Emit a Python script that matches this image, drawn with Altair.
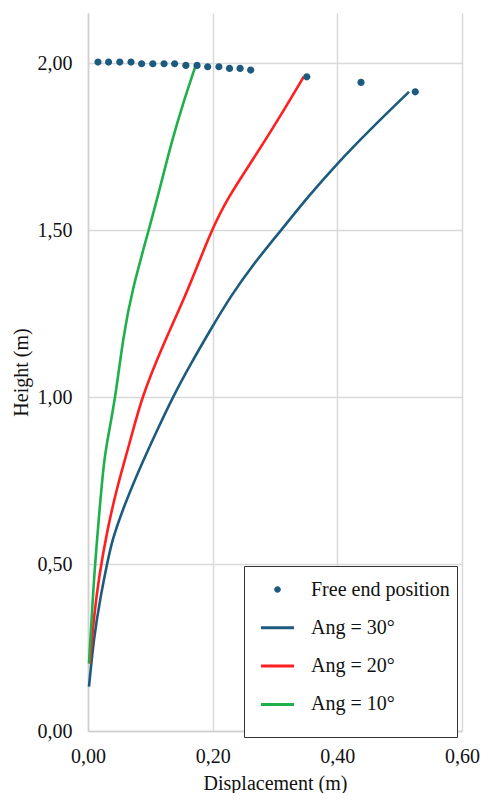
import altair as alt
import pandas as pd

# ---- data ----
series_names = ["Free end position", "Ang = 30°", "Ang = 20°", "Ang = 10°"]
series_colors = ["#1d5b7e", "#1d5b7e", "#ff1f1f", "#1fb04c"]

free_x = [0.016, 0.033, 0.051, 0.069, 0.086, 0.104, 0.122, 0.139, 0.157, 0.175,
          0.192, 0.210, 0.227, 0.244, 0.261, 0.351, 0.438, 0.525]
free_y = [2.003, 2.003, 2.003, 2.003, 1.998, 1.998, 1.998, 1.998, 1.993, 1.993,
          1.989, 1.989, 1.984, 1.984, 1.979, 1.959, 1.942, 1.914]

ang30_x = [0.0016, 0.0095, 0.020, 0.0307, 0.0386, 0.057, 0.0836, 0.113, 0.136,
           0.165, 0.196, 0.228, 0.266, 0.310, 0.353, 0.400, 0.452, 0.515]
ang30_y = [0.133, 0.282, 0.401, 0.501, 0.571, 0.670, 0.790, 0.909, 1.000,
           1.100, 1.200, 1.300, 1.400, 1.500, 1.600, 1.700, 1.800, 1.914]

ang20_x = [0.003, 0.0095, 0.0175, 0.0307, 0.0465, 0.068, 0.086, 0.123, 0.160,
           0.197, 0.224, 0.266, 0.303, 0.346]
ang20_y = [0.202, 0.342, 0.461, 0.600, 0.730, 0.869, 1.000, 1.168, 1.317,
           1.496, 1.596, 1.715, 1.824, 1.959]

ang10_x = [0.0016, 0.0095, 0.0175, 0.0254, 0.033, 0.044, 0.057, 0.0704, 0.0968,
           0.1127, 0.134, 0.155, 0.172]
ang10_y = [0.202, 0.461, 0.640, 0.810, 0.889, 1.000, 1.187, 1.317, 1.496,
           1.605, 1.765, 1.894, 1.989]

x_ticks = [0.0, 0.2, 0.4, 0.6]
y_ticks = [0.0, 0.5, 1.0, 1.5, 2.0]

# ---- tables ----
rows = []
for name, xs, ys in [("Ang = 30°", ang30_x, ang30_y),
                     ("Ang = 20°", ang20_x, ang20_y),
                     ("Ang = 10°", ang10_x, ang10_y)]:
    for i, (xv, yv) in enumerate(zip(xs, ys)):
        rows.append({"series": name, "x": xv, "y": yv, "i": i})
lines_df = pd.DataFrame(rows)
points_df = pd.DataFrame({"series": "Free end position", "x": free_x, "y": free_y})

FONT = "Liberation Serif"
fmt = "replace(format(datum.value, '.2f'), '.', ',')"

dot_path = "M-0.2,0A0.2,0.2,0,1,0,0.2,0A0.2,0.2,0,1,0,-0.2,0Z"
bar_path = "M-1,-0.09L1,-0.09L1,0.09L-1,0.09Z"

x_enc = alt.X("x:Q", scale=alt.Scale(domain=[0, 0.6], nice=False, zero=False),
              axis=alt.Axis(values=x_ticks, labelExpr=fmt, title="Displacement (m)",
                            ticks=False, labelPadding=15, titlePadding=7,
                            labelFlush=False))
y_enc = alt.Y("y:Q", scale=alt.Scale(domain=[0, 2.15], nice=False, zero=False),
              axis=alt.Axis(values=y_ticks, labelExpr=fmt, title="Height (m)",
                            ticks=False, labelPadding=16, titlePadding=6,
                            labelFlush=False))

color_scale = alt.Scale(domain=series_names, range=series_colors)

legend = alt.Legend(
    title="\u00a0", titleOrient="bottom", titleFontSize=16, titlePadding=0,
    orient="none", legendX=156, legendY=553,
    strokeColor="#333333", fillColor="white", padding=7, cornerRadius=0,
    symbolSize=1089, symbolOffset=10, labelOffset=17, rowPadding=11.3,
    labelFont=FONT, labelFontSize=20, labelColor="#111111", labelLimit=400,
    symbolStrokeWidth=0, symbolOpacity=1,
)

lines = alt.Chart(lines_df).mark_line(strokeWidth=2.6, interpolate="basis").encode(
    x=x_enc, y=y_enc,
    color=alt.Color("series:N", scale=color_scale, legend=legend),
    order="i:Q",
)

points = alt.Chart(points_df).mark_point(filled=True, opacity=1, size=1300, strokeWidth=0).encode(
    x=x_enc, y=y_enc,
    color=alt.Color("series:N", scale=color_scale, legend=legend),
    shape=alt.Shape("series:N", scale=alt.Scale(domain=series_names,
                                                  range=[dot_path, bar_path, bar_path, bar_path]),
                    legend=legend),
)

chart = alt.layer(lines, points).properties(
    width=374, height=718,
    padding={"left": 3, "top": 5, "right": 0, "bottom": 0},
).configure_view(stroke=None).configure_axis(
    labelFont=FONT, labelFontSize=20, labelColor="#111111",
    titleFont=FONT, titleFontSize=20, titleFontWeight="normal", titleColor="#111111",
    gridColor="#d9d9d9", gridWidth=1.5, domainColor="#cfcfcf", domainWidth=1.5,
)

chart.save("out.html", embed_options={"renderer": "svg", "actions": False})
